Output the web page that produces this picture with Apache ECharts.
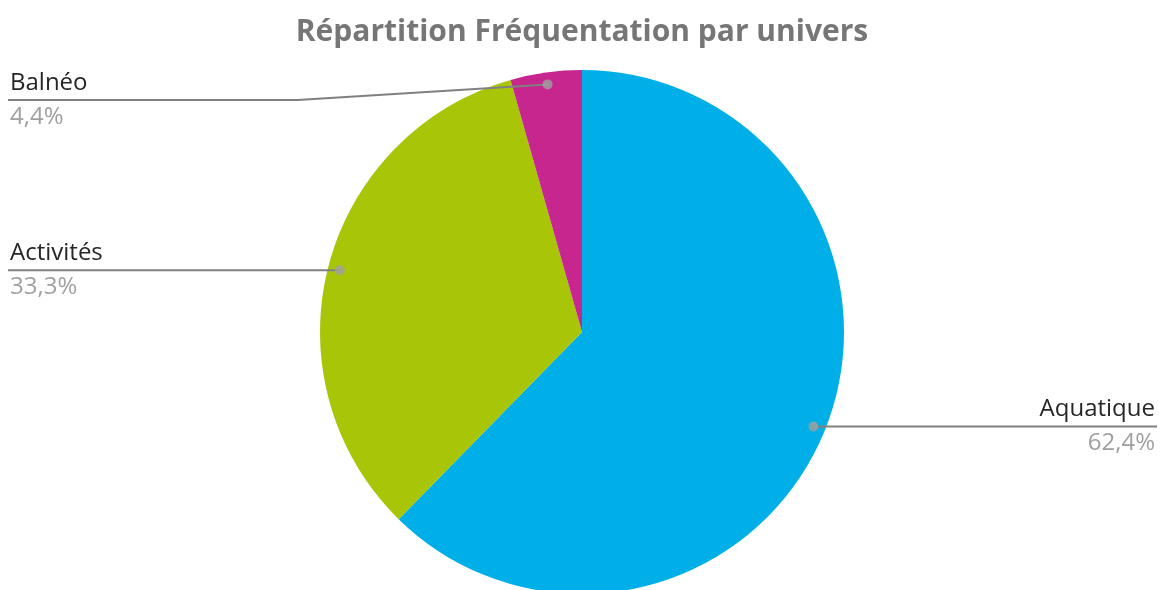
<!DOCTYPE html>
<html>
<head>
<meta charset="utf-8">
<title>Répartition Fréquentation par univers</title>
<script src="https://cdn.jsdelivr.net/npm/echarts@6/dist/echarts.min.js"></script>
<style>
	html, body {
		margin: 0;
		padding: 0;
		background: #fff;
	}
	#chart {
		width: 1164px;
		height: 590px;
	}
</style>
</head>
<body>
<div id="chart"></div>
<script>
// data
const univers = ["Aquatique", "Activités", "Balnéo"];
const parts = [62.4, 33.3, 4.4];
const couleurs = ["#00aee8", "#a8c508", "#c6268e"];

const center = [582, 332];
const rOuter = 262;
const rLabel = 250;

// angle (0..100) of the middle of each slice, for the dots on the label lines
const total = parts.reduce((a, b) => a + b, 0);
let cumul = 0;
const dots = parts.map((v) => {
	const mid = cumul + v / total * 50;
	cumul += v / total * 100;
	return [1, mid];
});

const chart = echarts.init(document.getElementById("chart"));

chart.setOption({
	title: {
		text: "Répartition Fréquentation par univers",
		left: "center",
		top: 12,
		textStyle: {
			fontFamily: "Open Sans",
			fontSize: 30,
			fontWeight: "bold",
			color: "#767676"
		}
	},
	polar: {
		center: center,
		radius: rLabel
	},
	angleAxis: {
		type: "value",
		min: 0,
		max: 100,
		startAngle: 90,
		clockwise: true,
		show: false
	},
	radiusAxis: {
		type: "value",
		min: 0,
		max: 1,
		show: false
	},
	series: [
		{
			name: "parts",
			type: "pie",
			center: center,
			radius: [0, rOuter],
			startAngle: 90,
			clockwise: true,
			silent: true,
			label: { show: false },
			labelLine: { show: false },
			data: univers.map((n, i) => ({
				name: n,
				value: parts[i],
				itemStyle: { color: couleurs[i] }
			}))
		},
		{
			name: "labels",
			type: "pie",
			center: center,
			radius: [0, rLabel],
			startAngle: 90,
			clockwise: true,
			silent: true,
			z: 3,
			itemStyle: { color: "transparent" },
			label: {
				show: true,
				position: "outside",
				fontFamily: "Open Sans",
				formatter: (p) => "{n|" + p.name + "}\n{v|" + p.value.toFixed(1).replace(".", ",") + "%}",
				rich: {
					n: {
						fontFamily: "Open Sans",
						fontSize: 24,
						color: "#262626",
						lineHeight: 34
					},
					v: {
						fontFamily: "Open Sans",
						fontSize: 24,
						color: "#a0a0a0",
						lineHeight: 34
					}
				}
			},
			labelLine: {
				show: true,
				length: 10,
				length2: 10,
				lineStyle: {
					color: "#808080",
					width: 2
				}
			},
			labelLayout: function (params) {
				const pts = params.labelLinePoints;
				const w = chart.getWidth();
				const isLeft = pts[0][0] < w / 2;
				const y = Math.max(pts[0][1], 100);
				const dy = Math.abs(y - pts[0][1]);
				const x1 = pts[0][0] + (isLeft ? -1 : 1) * dy * 16;
				const xEdge = isLeft ? 8 : w - 7;
				return {
					x: isLeft ? xEdge + 2 : xEdge - 2,
					y: y,
					align: isLeft ? "left" : "right",
					verticalAlign: "middle",
					labelLinePoints: [pts[0], [x1, y], [xEdge, y]]
				};
			},
			data: univers.map((n, i) => ({ name: n, value: parts[i] }))
		},
		{
			name: "points",
			type: "scatter",
			coordinateSystem: "polar",
			symbol: "circle",
			symbolSize: 10,
			silent: true,
			z: 5,
			itemStyle: { color: "#a0a0a0" },
			data: dots
		}
	]
});

window.addEventListener("resize", () => chart.resize());
</script>
</body>
</html>
